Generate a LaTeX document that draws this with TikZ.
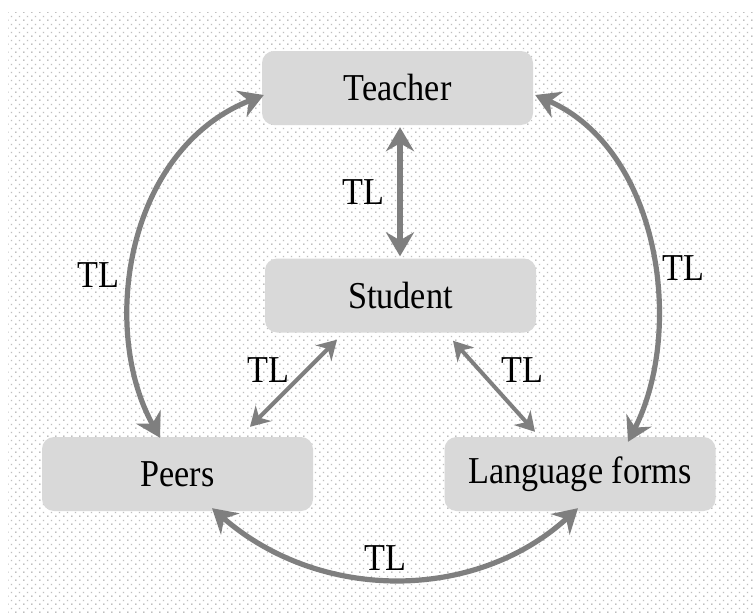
\documentclass[tikz,border=0pt]{standalone}
\usepackage{fontspec}
\setmainfont{Liberation Serif}
\usetikzlibrary{arrows.meta,calc,patterns}
\definecolor{boxgray}{HTML}{D9D9D9}
\definecolor{arrowgray}{HTML}{7F7F7F}
\pgfdeclarepatterninherentlycolored{bgdots}
{\pgfpointorigin}{\pgfqpoint{7.5pt}{7.5pt}}
{\pgfqpoint{7.5pt}{7.5pt}}
{
 \pgfsetfillcolor{black!60}
 \pgfpathrectangle{\pgfqpoint{0.5pt}{0.5pt}}{\pgfqpoint{1pt}{1pt}}
 \pgfusepath{fill}
 \pgfsetfillcolor{black!25}
 \pgfpathrectangle{\pgfqpoint{4.2pt}{4.2pt}}{\pgfqpoint{1.3pt}{1.3pt}}
 \pgfusepath{fill}
}
\newcommand{\sq}[1]{\scalebox{0.9}[1]{#1}}
\tikzset{
  box/.style={rectangle, rounded corners=12pt, fill=boxgray, draw=none,
    minimum width=271pt, minimum height=74pt, inner sep=0pt,
    font=\fontsize{38}{40}\selectfont},
  lbl/.style={inner sep=0pt, font=\fontsize{38}{40}\selectfont},
  conn/.style={draw=arrowgray, line width=5.2pt,
    {Stealth[length=24pt,width=28pt,inset=8pt]}-{Stealth[length=24pt,width=28pt,inset=8pt]}},
  thin conn/.style={draw=arrowgray, line width=4pt,
    {Stealth[length=19pt,width=22pt,inset=6pt]}-{Stealth[length=19pt,width=22pt,inset=6pt]}}
}
\begin{document}
\begin{tikzpicture}[x=1pt,y=-1pt]
\useasboundingbox (0,0) rectangle (753,613);
\fill[white] (0,0) rectangle (753,613);
\fill[pattern=bgdots] (8,12) rectangle (753,613);

\node[box] (T) at (397.5,88) {\sq{Teacher}};
\node[box] (S) at (400.5,295.5) {\sq{Student}};
\node[box] (P) at (177.5,474) {\sq{Peers}};
\node[box] (L) at (580,474) {\sq{Language forms}};

% Teacher - Student
\draw[conn] ($(T.south)+(2.5,2)$) -- ($(S.north)+(-0.5,-2)$);
% Teacher - Peers
\draw[conn] ($(T.west)+(2,7)$) .. controls (125,150) and (100,330) .. ($(P.north)+(-17.5,1)$);
% Teacher - Language
\draw[conn] ($(T.east)+(2,7)$) .. controls (660,150) and (685,330) .. ($(L.north)+(48,5)$);
% Student - Peers
\draw[thin conn] ($(S.south)+(-63.5,7)$) -- ($(P.north)+(72.5,-10)$);
% Student - Language
\draw[thin conn] ($(S.south)+(52.5,8)$) -- ($(L.north)+(-45,-5)$);
% Peers - Language
\draw[conn] ($(P.south)+(34.5,-3)$) .. controls (320,602) and (475,602) .. ($(L.south)+(-2,-3)$);

\node[lbl] (l1) at (363,192) {\sq{TL}};
\node[lbl] (l2) at (98,275) {\sq{TL}};
\node[lbl] (l3) at (683,268) {\sq{TL}};
\node[lbl] (l4) at (268,370) {\sq{TL}};
\node[lbl] (l5) at (522,370) {\sq{TL}};
\node[lbl] (l6) at (385,558) {\sq{TL}};
\end{tikzpicture}
\end{document}
